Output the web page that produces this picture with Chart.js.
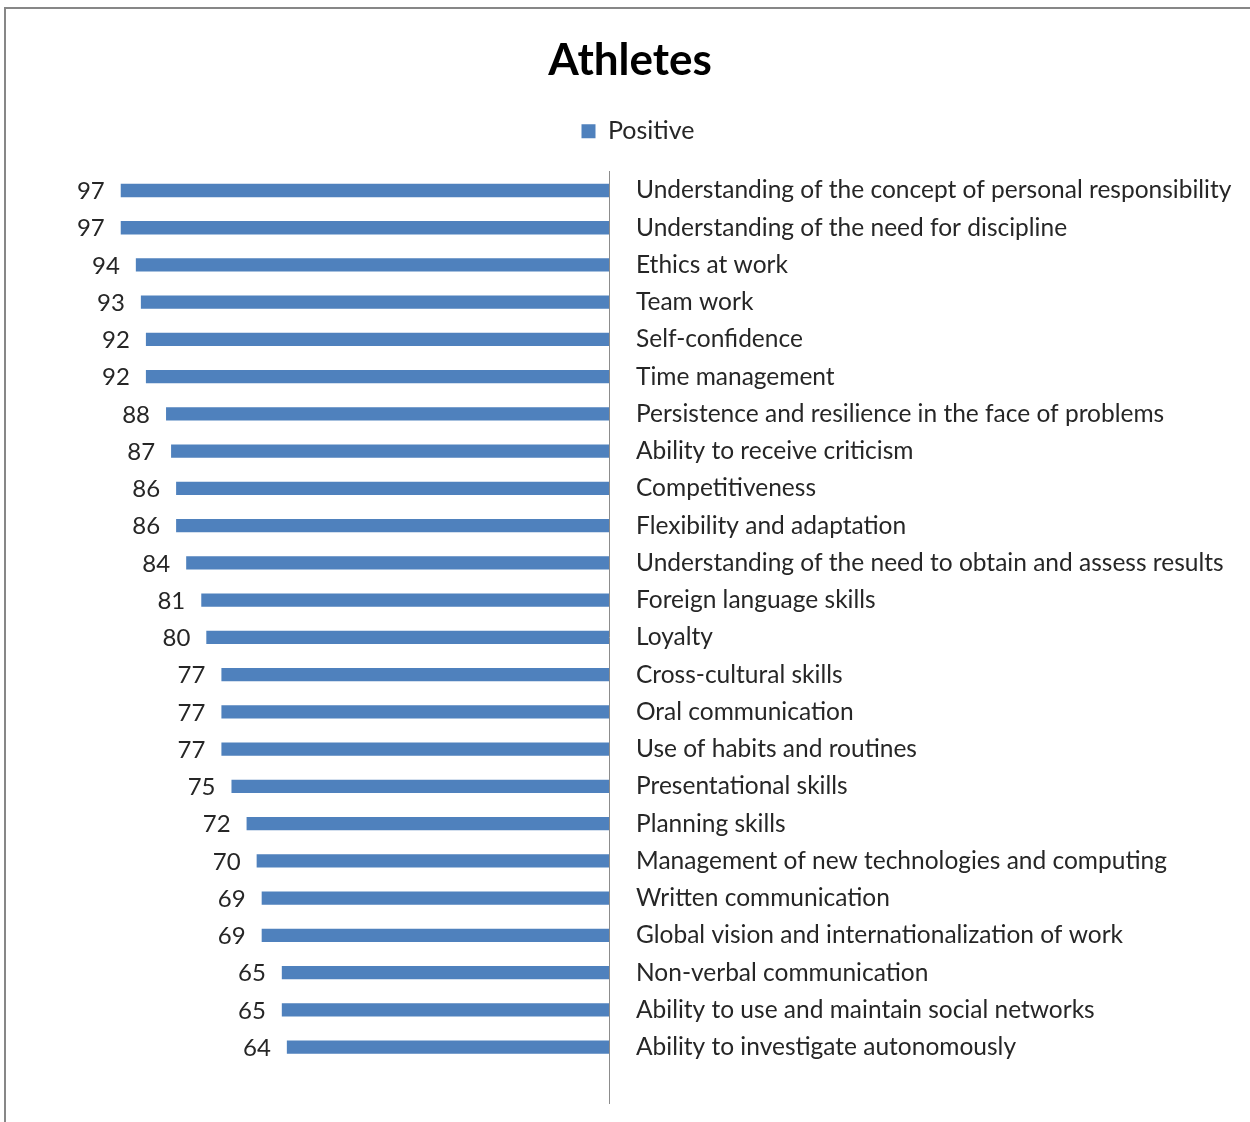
<!DOCTYPE html>
<html>
<head>
<meta charset="utf-8">
<script src="https://cdn.jsdelivr.net/npm/chart.js@4.4.1/dist/chart.umd.min.js"></script>
<style>
  html, body { margin: 0; padding: 0; background: #fff; }
  #wrap { position: relative; width: 1250px; height: 1122px; }
</style>
</head>
<body>
<div id="wrap"><canvas id="athletes"></canvas></div>
<script>
// skills, top to bottom; trailing blank slot keeps the empty band under the last bar
const skills = [
  'Understanding of the concept of personal responsibility',
  'Understanding of the need for discipline',
  'Ethics at work',
  'Team work',
  'Self-confidence',
  'Time management',
  'Persistence and resilience in the face of problems',
  'Ability to receive criticism',
  'Competitiveness',
  'Flexibility and adaptation',
  'Understanding of the need to obtain and assess results',
  'Foreign language skills',
  'Loyalty',
  'Cross-cultural skills',
  'Oral communication',
  'Use of habits and routines',
  'Presentational skills',
  'Planning skills',
  'Management of new technologies and computing',
  'Written communication',
  'Global vision and internationalization of work',
  'Non-verbal communication',
  'Ability to use and maintain social networks',
  'Ability to investigate autonomously',
  '',
];
const positive = [97, 97, 94, 93, 92, 92, 88, 87, 86, 86, 84, 81, 80, 77, 77, 77, 75, 72, 70, 69, 69, 65, 65, 64, null];

const FONT = 'Lato, "Open Sans", sans-serif';

// grey frame (top + left edges)
const framePlugin = {
  id: 'frame',
  beforeDraw(chart) {
    const { ctx, width, height } = chart;
    ctx.save();
    ctx.fillStyle = '#fff';
    ctx.fillRect(0, 0, width, height);
    ctx.fillStyle = '#878787';
    ctx.fillRect(4, 7, 2, height - 7);
    ctx.fillRect(4, 7, width - 4, 2);
    ctx.restore();
  },
};

// extra room between legend and bars, legend nudged a bit right
const legendTweak = {
  id: 'legendTweak',
  beforeInit(chart) {
    const lg = chart.legend;
    const fit = lg.fit;
    lg.fit = function () {
      fit.call(this);
      this.height += 18;
    };
    const draw = lg.draw;
    lg.draw = function () {
      const c = this.ctx;
      c.save();
      c.translate(8, 0);
      draw.call(this);
      c.restore();
    };
  },
};

// value printed just beyond the end of each bar
const valueLabels = {
  id: 'valueLabels',
  afterDatasetsDraw(chart) {
    const { ctx } = chart;
    const meta = chart.getDatasetMeta(0);
    ctx.save();
    ctx.font = '24px ' + FONT;
    ctx.fillStyle = '#262626';
    ctx.textAlign = 'right';
    ctx.textBaseline = 'middle';
    meta.data.forEach((bar, i) => {
      const v = positive[i];
      if (v == null) return;
      ctx.fillText(String(v), bar.x - 16, bar.y + 1);
    });
    ctx.restore();
  },
};

new Chart(document.getElementById('athletes'), {
  type: 'bar',
  data: {
    labels: skills,
    datasets: [{
      label: 'Positive',
      data: positive,
      backgroundColor: '#4F81BD',
      borderWidth: 0,
      barPercentage: 0.36,
      categoryPercentage: 1,
    }],
  },
  options: {
    indexAxis: 'y',
    responsive: true,
    maintainAspectRatio: false,
    animation: false,
    layout: { padding: { left: 10, right: 0, top: 0, bottom: 19 } },
    plugins: {
      title: {
        display: true,
        text: 'Athletes',
        color: '#000',
        font: { family: FONT, size: 44, weight: 'bold' },
        padding: { top: 34, bottom: 22 },
      },
      legend: {
        display: true,
        position: 'top',
        labels: {
          color: '#262626',
          font: { family: FONT, size: 25 },
          boxWidth: 14,
          boxHeight: 14,
          padding: 10,
        },
      },
      tooltip: { enabled: false },
    },
    scales: {
      x: {
        display: false,
        reverse: true,
        min: 0,
        max: 119,
      },
      y: {
        position: 'right',
        grid: { display: true, drawOnChartArea: false, drawTicks: false },
        border: { display: true, color: '#8c8c8c', width: 1 },
        ticks: {
          color: '#262626',
          font: { family: FONT, size: 24.5 },
          padding: 27,
          autoSkip: false,
        },
        afterFit(scale) {
          scale.width = 641;
          scale.paddingTop = 0;
          scale.paddingBottom = 0;
        },
      },
    },
  },
  plugins: [framePlugin, legendTweak, valueLabels],
});
</script>
</body>
</html>
